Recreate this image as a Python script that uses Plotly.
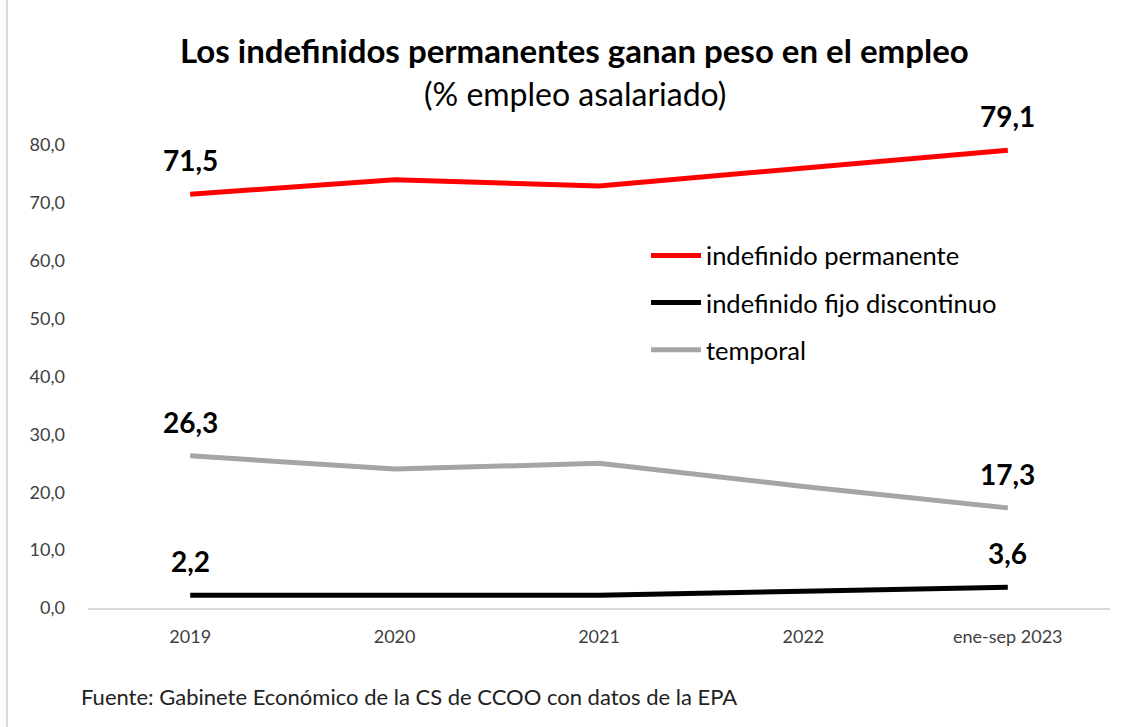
import plotly.graph_objects as go

categories = ["2019", "2020", "2021", "2022", "ene-sep 2023"]
indefinido_permanente = [71.5, 74.0, 72.9, 76.1, 79.1]
indefinido_fijo_discontinuo = [2.2, 2.2, 2.2, 2.9, 3.6]
temporal = [26.3, 24.0, 25.0, 21.0, 17.3]
y_ticks = [0, 10, 20, 30, 40, 50, 60, 70, 80]

FONT = "Lato"

fig = go.Figure()
series = [
    ("indefinido permanente", indefinido_permanente, "#FF0000"),
    ("indefinido fijo discontinuo", indefinido_fijo_discontinuo, "#000000"),
    ("temporal", temporal, "#A5A5A5"),
]
for i, (name, vals, col) in enumerate(series):
    fig.add_trace(go.Scatter(
        x=categories, y=vals, mode="lines", name=name,
        line=dict(color=col, width=5), legendgroup=f"g{i}",
        hoverinfo="skip",
    ))

annotations = []
# data labels on first and last points (category index on the category axis)
for name, vals, col in series:
    for idx in (0, len(vals) - 1):
        annotations.append(dict(
            x=idx, y=vals[idx], xref="x", yref="y",
            text=f"{vals[idx]:.1f}".replace(".", ","),
            showarrow=False, yshift=34,
            font=dict(family=FONT, size=28, color="#000000", weight="bold"),
        ))

annotations += [
    dict(xref="paper", yref="paper", x=0.4765, y=1, xanchor="center", yanchor="middle",
         yshift=95, text="<b>Los indefinidos permanentes ganan peso en el empleo</b>",
         showarrow=False, font=dict(family=FONT, size=33, color="#000000")),
    dict(xref="paper", yref="paper", x=0.4765, y=1, xanchor="center", yanchor="middle",
         yshift=52, text="(% empleo asalariado)",
         showarrow=False, font=dict(family=FONT, size=32, color="#000000")),
    dict(xref="paper", yref="paper", x=-0.0085, y=0, xanchor="left", yanchor="middle",
         yshift=-88, text="Fuente: Gabinete Económico de la CS de CCOO con datos de la EPA",
         showarrow=False, font=dict(family=FONT, size=22, color="#222222")),
]

fig.update_layout(
    width=1130, height=727,
    margin=dict(l=88, r=20, t=145, b=119),
    paper_bgcolor="white", plot_bgcolor="white",
    separators=",.",
    showlegend=True,
    annotations=annotations,
    legend=dict(
        x=0.546, y=0.659, xanchor="left", yanchor="middle",
        font=dict(family=FONT, size=25.5, color="#000000"),
        tracegroupgap=11, itemwidth=50, bgcolor="rgba(0,0,0,0)",
    ),
    xaxis=dict(
        type="category", range=[-0.5, 4.5], showgrid=False, zeroline=False,
        showline=True, linecolor="#D9D9D9", linewidth=2,
        ticks="", tickfont=dict(family=FONT, size=18, color="#404040"),
        ticklabelstandoff=11,
    ),
    yaxis=dict(
        range=[0, 80], tickvals=y_ticks, tickformat=".1f",
        showgrid=False, zeroline=False, showline=False, ticks="",
        tickfont=dict(family=FONT, size=18, color="#404040"),
        ticklabelstandoff=22,
    ),
    shapes=[dict(type="line", xref="paper", yref="paper", x0=-0.0793, x1=-0.0793,
                 y0=-0.3, y1=1.4, line=dict(color="#D9D9D9", width=2))],
)

fig.write_html("out.html", post_script="document.body.style.margin='0';",
               config={"displayModeBar": False})
